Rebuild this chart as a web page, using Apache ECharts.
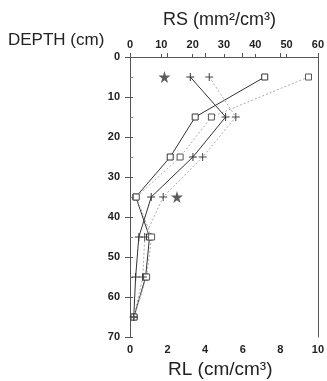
<!DOCTYPE html>
<html>
<head>
<meta charset="utf-8">
<script src="https://cdn.jsdelivr.net/npm/echarts@6/dist/echarts.min.js"></script>
<style>
  html, body { margin: 0; padding: 0; background: #fff; }
  #main { width: 327px; height: 381px; }
</style>
</head>
<body>
<div id="main"></div>
<script>
// depths of the samples (cm)
var depths = [5, 15, 25, 35, 45, 55, 65];

// RL (cm/cm3), bottom axis
var rlSquare = [7.17, 3.47, 2.14, 0.31, 1.04, 0.83, 0.21];
var rlPlus = [3.21, 5.09, 3.35, 1.13, 0.47, 0.3, 0.2];
// RS (mm2/cm3), top axis
var rsSquare = [57, 26, 16, 2, 6.9, 5.3, 1.3];
var rsPlus = [25.3, 33.8, 23.2, 10.6, 4.7, 4.1, 1.2];

// significance stars, RS units
var starRs = [11, 15];
var starDepth = [5, 35];

function pairs(xs) {
  return xs.map(function (v, i) { return [v, depths[i]]; });
}

var plusPath = "path://M5,0 L5,10 M0,5 L10,5";
var starPath = "path://M50,0 L61,35 L98,35 L68,57 L79,91 L50,70 L21,91 L32,57 L2,35 L39,35 Z";

var lbl = { color: "#222", fontSize: 11, fontWeight: "bold", fontFamily: "Liberation Sans" };

var chartDom = document.getElementById("main");
var myChart = echarts.init(chartDom);
var option = {
  animation: false,
  grid: { left: 130, right: 5, top: 57, bottom: 44 },
  xAxis: [
    {
      type: "value", position: "bottom", min: 0, max: 10, interval: 2,
      axisLine: { lineStyle: { color: "#555", width: 1 } },
      axisTick: { inside: true, length: 4, lineStyle: { color: "#555" } },
      axisLabel: Object.assign({ margin: 7 }, lbl),
      splitLine: { show: false }
    },
    {
      type: "value", position: "top", min: 0, max: 60, interval: 10,
      axisLine: { lineStyle: { color: "#555", width: 1 } },
      axisTick: { inside: false, length: 3, lineStyle: { color: "#555" } },
      axisLabel: Object.assign({ margin: 7 }, lbl),
      splitLine: { show: false }
    }
  ],
  yAxis: [
    {
      type: "value", inverse: true, min: 0, max: 70, interval: 10, position: "left",
      axisLine: { show: true, lineStyle: { color: "#555", width: 1 } },
      axisTick: { inside: false, length: 5, lineStyle: { color: "#555" } },
      axisLabel: Object.assign({ margin: 10 }, lbl),
      splitLine: { show: false }
    },
    {
      type: "value", inverse: true, min: 0, max: 70, interval: 10, position: "left", offset: 0,
      axisLine: { show: false },
      axisTick: { inside: true, length: 3, lineStyle: { color: "#555" } },
      minorTick: { show: true, splitNumber: 2, length: 3, lineStyle: { color: "#777" } },
      axisLabel: { show: false },
      splitLine: { show: false }
    },
    {
      type: "value", inverse: true, min: 0, max: 70, interval: 10, position: "right", offset: 0,
      axisLine: { show: true, lineStyle: { color: "#555", width: 1 } },
      axisTick: { show: false },
      axisLabel: { show: false },
      splitLine: { show: false }
    }
  ],
  graphic: [
    { type: "text", left: 163, top: 11, style: { text: "RS (mm²/cm³)", font: "18px 'Liberation Sans'", fill: "#222" } },
    { type: "text", left: 8, top: 32, style: { text: "DEPTH (cm)", font: "17px 'Liberation Sans'", fill: "#222" } },
    { type: "text", left: 168, top: 360, style: { text: "RL (cm/cm³)", font: "19px 'Liberation Sans'", fill: "#222" } }
  ],
  series: [
    {
      name: "RL square", type: "line", xAxisIndex: 0, yAxisIndex: 0,
      data: pairs(rlSquare),
      symbol: "rect", symbolSize: 6,
      itemStyle: { color: "#fff", borderColor: "#333", borderWidth: 1 },
      lineStyle: { color: "#333", width: 1 }
    },
    {
      name: "RS square", type: "line", xAxisIndex: 1, yAxisIndex: 0,
      data: pairs(rsSquare),
      symbol: "rect", symbolSize: 6,
      itemStyle: { color: "#fff", borderColor: "#555", borderWidth: 1 },
      lineStyle: { color: "#aaa", width: 1, type: [2, 2] }
    },
    {
      name: "RL plus", type: "line", xAxisIndex: 0, yAxisIndex: 0,
      data: pairs(rlPlus),
      symbol: plusPath, symbolSize: 8,
      itemStyle: { color: "none", borderColor: "#333", borderWidth: 1 },
      lineStyle: { color: "#333", width: 1 }
    },
    {
      name: "RS plus", type: "line", xAxisIndex: 1, yAxisIndex: 0,
      data: pairs(rsPlus),
      symbol: plusPath, symbolSize: 8,
      itemStyle: { color: "none", borderColor: "#444", borderWidth: 1 },
      lineStyle: { color: "#aaa", width: 1, type: [2, 2] }
    },
    {
      name: "stars", type: "scatter", xAxisIndex: 1, yAxisIndex: 0,
      data: starRs.map(function (v, i) { return [v, starDepth[i]]; }),
      symbol: starPath, symbolSize: 12,
      itemStyle: { color: "#333" }
    }
  ]
};
option && myChart.setOption(option);
</script>
</body>
</html>
